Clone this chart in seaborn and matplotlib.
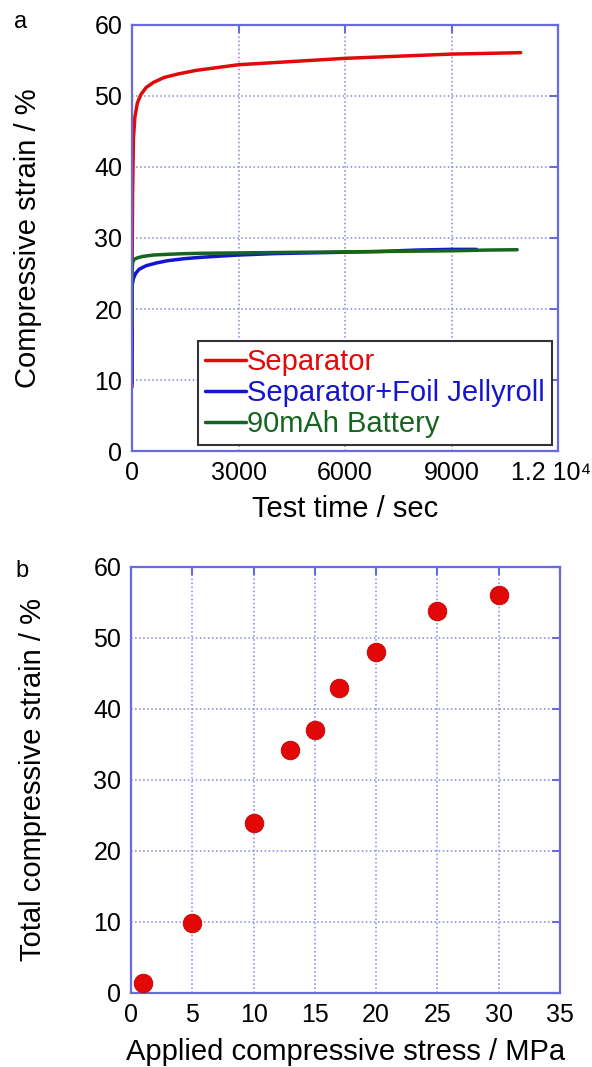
import matplotlib
matplotlib.use("Agg")
import matplotlib.pyplot as plt
import matplotlib.transforms as mtrans
import seaborn as sns

# panel a: creep curves (time in sec, strain in %)
sep_time = [0, 5, 15, 40, 80, 150, 250, 400, 600, 900, 1300, 1800, 2400, 3000,
            4000, 5000, 6000, 7000, 8000, 9000, 10000, 10950]
sep_strain = [9, 27, 36, 44, 47, 49, 50.2, 51.2, 51.9, 52.6, 53.1, 53.6, 54.0, 54.4,
              54.7, 55.0, 55.3, 55.5, 55.7, 55.9, 56.0, 56.1]

jelly_time = [0, 2, 10, 40, 100, 200, 400, 700, 1000, 1500, 2000, 3000, 4000, 5000,
              6000, 7000, 8000, 9000, 9700]
jelly_strain = [9.5, 22.5, 23.5, 24.3, 25.0, 25.6, 26.1, 26.5, 26.8, 27.1, 27.3, 27.6,
                27.8, 27.9, 28.0, 28.1, 28.3, 28.4, 28.4]

batt_time = [0, 3, 20, 60, 150, 300, 600, 1000, 1500, 2000, 3000, 4000, 5000, 6000,
             7000, 8000, 9000, 10000, 10850]
batt_strain = [18, 25.5, 26.6, 27.0, 27.2, 27.4, 27.6, 27.7, 27.8, 27.85, 27.9, 27.95,
               28.0, 28.05, 28.1, 28.15, 28.2, 28.3, 28.35]

# panel b: total strain vs applied stress
stress = [1, 5, 10, 13, 15, 17, 20, 25, 30]
total_strain = [1.4, 9.8, 24.0, 34.2, 37.0, 42.9, 48.0, 53.8, 56.0]

a_xticks = [0, 3000, 6000, 9000, 12000]
a_xticklabels = ['0', '3000', '6000', '9000', '1.2 10\u2074']

sns.set_theme(style='white')
plt.rcParams['font.family'] = ['Liberation Sans', 'DejaVu Sans']
plt.rcParams['text.color'] = 'black'
plt.rcParams['axes.labelcolor'] = 'black'

frame_col = '#6a6ae0'
grid_col = '#8484ea'

fig = plt.figure(figsize=(5.92, 10.67), dpi=100)
ax_a = fig.add_axes([0.223, 0.5773, 0.7196, 0.3993])
ax_b = fig.add_axes([0.2213, 0.0694, 0.7247, 0.3993])

for ax in (ax_a, ax_b):
    ax.set_axisbelow(True)
    ax.grid(True, linestyle=':', color=grid_col, linewidth=1.1)
    for s in ax.spines.values():
        s.set_color(frame_col)
        s.set_linewidth(1.6)
    ax.tick_params(direction='in', length=6, width=1.5, color=frame_col,
                   top=True, right=True, labelsize=18, pad=7, labelcolor='black')

# --- panel a
sns.lineplot(x=sep_time, y=sep_strain, color='#e00a0a', linewidth=2.5,
             label='Separator', ax=ax_a, estimator=None)
sns.lineplot(x=jelly_time, y=jelly_strain, color='#1515d0', linewidth=2.5,
             label='Separator+Foil Jellyroll', ax=ax_a, estimator=None)
sns.lineplot(x=batt_time, y=batt_strain, color='#16651e', linewidth=2.5,
             label='90mAh Battery', ax=ax_a, estimator=None)
ax_a.set_xlim(0, 12000)
ax_a.set_ylim(0, 60)
ax_a.set_xticks(a_xticks)
ax_a.set_xticklabels(a_xticklabels)
last = ax_a.get_xticklabels()[-1]
last.set_transform(last.get_transform() +
                   mtrans.ScaledTranslation(-0.07, 0, fig.dpi_scale_trans))
ax_a.set_yticks(range(0, 61, 10))
ax_a.set_xlabel('Test time / sec', fontsize=21, va='top')
ax_a.set_ylabel('Compressive strain / %', fontsize=21)
ax_a.xaxis.set_label_coords(0.5, -0.103)
ax_a.yaxis.set_label_coords(-0.212, 0.5)
leg = ax_a.legend(loc='lower right', fontsize=21, labelcolor='linecolor',
                  fancybox=False, framealpha=1, edgecolor='#333333',
                  handlelength=1.4, handletextpad=0.05, labelspacing=0.1,
                  borderpad=0.25, borderaxespad=0.2)
leg.get_frame().set_linewidth(1.5)

# --- panel b
sns.scatterplot(x=stress, y=total_strain, color='#e30808', s=180,
                edgecolor='#c00000', linewidth=0.6, ax=ax_b, zorder=3)
ax_b.set_xlim(0, 35)
ax_b.set_ylim(0, 60)
ax_b.set_xticks(range(0, 36, 5))
ax_b.set_yticks(range(0, 61, 10))
ax_b.set_xlabel('Applied compressive stress / MPa', fontsize=21, va='top')
ax_b.set_ylabel('Total compressive strain / %', fontsize=21)
ax_b.xaxis.set_label_coords(0.5, -0.105)
ax_b.yaxis.set_label_coords(-0.195, 0.5)

fig.text(21 / 592, 1 - 22 / 1067, 'a', fontsize=17, ha='center', va='center')
fig.text(22 / 592, 1 - 571 / 1067, 'b', fontsize=17, ha='center', va='center')

fig.savefig('out.png', dpi=100)
